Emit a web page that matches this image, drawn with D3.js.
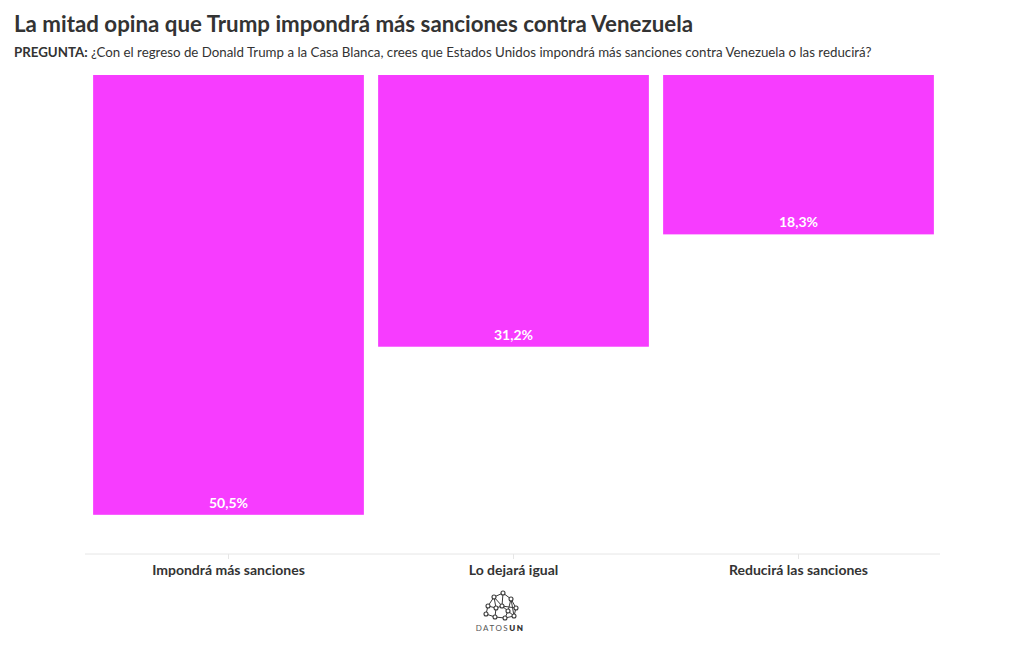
<!DOCTYPE html>
<html>
<head>
<meta charset="utf-8">
<script src="https://cdn.jsdelivr.net/npm/d3@7"></script>
<style>
  body { margin: 0; background: #fff; }
  svg { font-family: "Source Sans Pro", Lato, "Noto Sans", sans-serif; }
</style>
</head>
<body>
<div id="chart"></div>
<script>
var categories = ["Impondrá más sanciones", "Lo dejará igual", "Reducirá las sanciones"];
var values = [50.5, 31.2, 18.3];
var valueLabels = ["50,5%", "31,2%", "18,3%"];

// logo nodes (relative to logo centre) and links
var logoNodes = [[-12, 2], [-6, -7], [3, -11], [11, -5], [16, 4], [14, 12], [5, 14], [-5, 13], [-14, 10], [2, 2], [8, 7], [-4, 4]];
var logoLinks = [[0, 1], [1, 2], [2, 3], [3, 4], [4, 5], [5, 6], [6, 7], [7, 8], [8, 0], [1, 9], [2, 9], [9, 10], [10, 5], [10, 6], [9, 11], [11, 0], [11, 7], [3, 10], [3, 5], [1, 11], [9, 4]];

var width = 1020, height = 650;

var svg = d3.select("#chart").append("svg")
    .attr("width", width)
    .attr("height", height);

svg.append("text")
    .attr("x", 14)
    .attr("y", 32)
    .attr("font-size", 22.3)
    .attr("font-weight", 700)
    .attr("fill", "#333")
    .text("La mitad opina que Trump impondrá más sanciones contra Venezuela");

var sub = svg.append("text")
    .attr("x", 14)
    .attr("y", 57)
    .attr("font-size", 13.3)
    .attr("fill", "#333");
sub.append("tspan").attr("font-weight", 700).text("PREGUNTA: ");
sub.append("tspan").text("¿Con el regreso de Donald Trump a la Casa Blanca, crees que Estados Unidos impondrá más sanciones contra Venezuela o las reducirá?");

var x = d3.scaleBand()
    .domain(categories)
    .range([86, 941])
    .paddingInner(0.05)
    .paddingOuter(0.025);

// bars hang from the top
var y = d3.scaleLinear()
    .domain([0, 55])
    .range([75, 554]);

var xAxis = svg.append("g")
    .attr("transform", "translate(0," + 554 + ")")
    .call(d3.axisBottom(x).tickSize(5).tickPadding(6));

xAxis.select(".domain").attr("stroke", "#e6e6e6").attr("d", "M85,0H940");
xAxis.selectAll(".tick line").attr("stroke", "#e6e6e6");
xAxis.selectAll(".tick text")
    .attr("font-size", 14)
    .attr("font-weight", 700)
    .attr("fill", "#333")
    .attr("font-family", "\"Source Sans Pro\", Lato, \"Noto Sans\", sans-serif");

svg.selectAll("rect.bar")
    .data(values)
    .enter().append("rect")
    .attr("class", "bar")
    .attr("x", function (d, i) { return x(categories[i]); })
    .attr("y", y(0))
    .attr("width", x.bandwidth())
    .attr("height", function (d) { return y(d) - y(0); })
    .attr("fill", "#f73cff");

svg.selectAll("text.val")
    .data(values)
    .enter().append("text")
    .attr("class", "val")
    .attr("x", function (d, i) { return x(categories[i]) + x.bandwidth() / 2; })
    .attr("y", function (d) { return y(d) - 7; })
    .attr("text-anchor", "middle")
    .attr("font-size", 14)
    .attr("font-weight", 700)
    .attr("fill", "#fff")
    .text(function (d, i) { return valueLabels[i]; });

// logo
var logo = svg.append("g").attr("transform", "translate(500,604)");
logo.selectAll("line")
    .data(logoLinks)
    .enter().append("line")
    .attr("x1", function (d) { return logoNodes[d[0]][0]; })
    .attr("y1", function (d) { return logoNodes[d[0]][1]; })
    .attr("x2", function (d) { return logoNodes[d[1]][0]; })
    .attr("y2", function (d) { return logoNodes[d[1]][1]; })
    .attr("stroke", "#3a3a3a")
    .attr("stroke-width", 1);
logo.selectAll("circle")
    .data(logoNodes)
    .enter().append("circle")
    .attr("cx", function (d) { return d[0]; })
    .attr("cy", function (d) { return d[1]; })
    .attr("r", 2)
    .attr("fill", "#fff")
    .attr("stroke", "#3a3a3a")
    .attr("stroke-width", 1.1);

var brand = svg.append("text")
    .attr("x", 500)
    .attr("y", 631)
    .attr("text-anchor", "middle")
    .attr("font-size", 8)
    .attr("letter-spacing", 1.5)
    .attr("fill", "#555");
brand.append("tspan").text("DATOS");
brand.append("tspan").attr("font-weight", 800).attr("fill", "#333").text("UN");
</script>
</body>
</html>
